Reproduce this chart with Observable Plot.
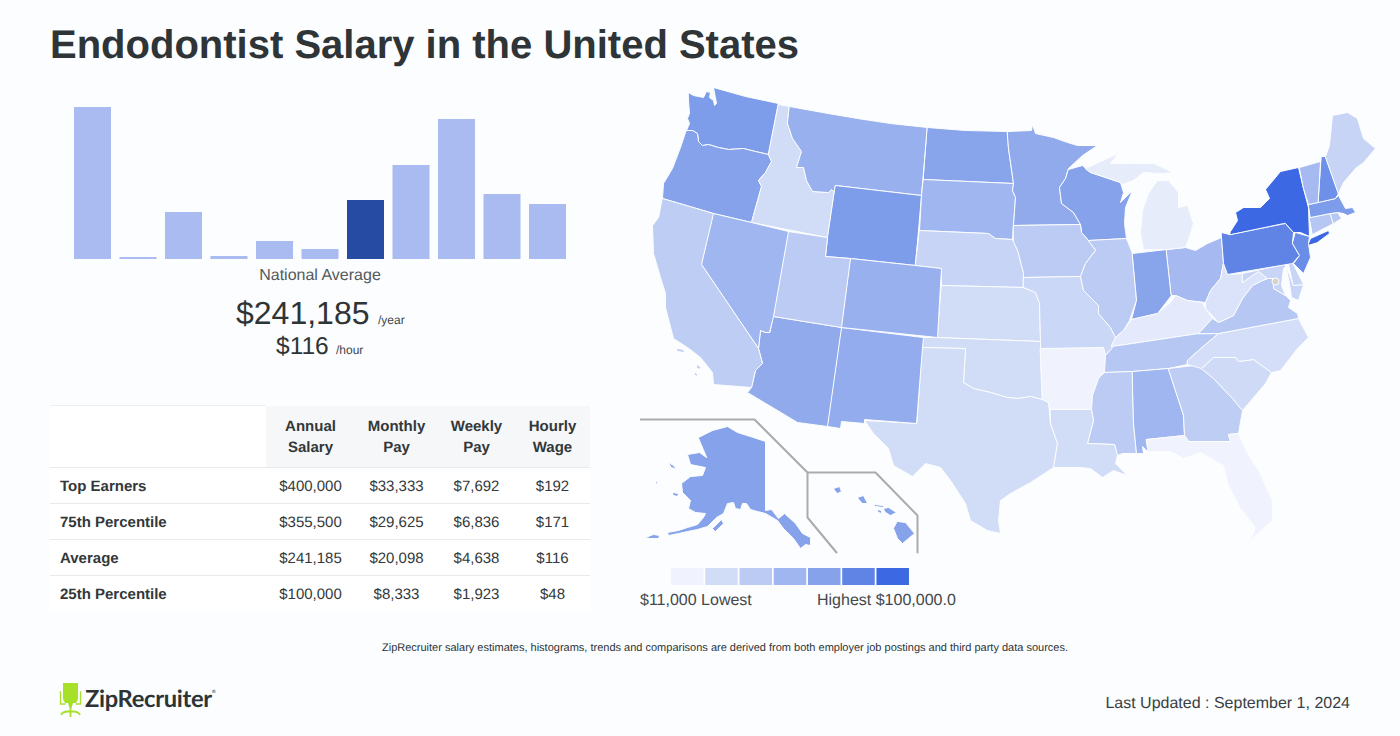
<!DOCTYPE html>
<html>
<head>
<meta charset="utf-8">
<script src="https://cdn.jsdelivr.net/npm/d3@7"></script>
<script src="https://cdn.jsdelivr.net/npm/@observablehq/plot@0.6"></script>
<style>
html,body{margin:0;padding:0;background:#fbfdff;width:1400px;height:736px;overflow:hidden;font-family:"Liberation Sans",Arial,sans-serif;color:#2f3436;text-rendering:geometricPrecision}
.abs{position:absolute;white-space:nowrap}
svg{background:transparent!important;display:block}
#salary{left:50px;top:405px;border-collapse:collapse;font-size:15px;width:540px;table-layout:fixed;color:#33383a}
#salary td,#salary th{text-align:center;padding:1px 0 0 0}
#salary tr.row td{height:34px;background:#fff;border-bottom:1px solid #e9eaec}
#salary tr.row:last-child td{border-bottom:none}
#salary tr.row td:first-child{text-align:left;padding-left:10px;font-weight:bold}
#salary th{height:60px;line-height:21px;font-weight:bold;background:#f6f7f8;border-bottom:1px solid #e9eaec}
#salary th:first-child{background:#fff;border-top:1px solid #eceef0}
</style>
</head>
<body>
<div class="abs" style="left:50px;top:21px;font-size:40px;font-weight:bold;line-height:48px">Endodontist Salary in the United States</div>
<div class="abs" id="bars" style="left:50px;top:95px"></div>
<div class="abs" style="left:50px;width:540px;top:267px;text-align:center;font-size:16px;color:#55595c">National Average</div>
<div class="abs" style="left:236px;top:294px;font-size:32px;line-height:38px">$241,185</div>
<div class="abs" style="left:378px;top:313px;font-size:12px;color:#44484a">/year</div>
<div class="abs" style="left:276px;top:332px;font-size:24.500px;line-height:30px">$116</div>
<div class="abs" style="left:336px;top:343px;font-size:12px;color:#44484a">/hour</div>
<table class="abs" id="salary"></table>
<div class="abs" id="map" style="left:640px;top:80px"></div>
<div class="abs" id="legend" style="left:640px;top:560px"></div>
<div class="abs" style="left:640px;top:592px;font-size:16px;color:#44484a">$11,000 Lowest</div>
<div class="abs" style="left:817px;top:592px;font-size:16px;color:#44484a">Highest $100,000.0</div>
<div class="abs" style="left:0;width:1450px;top:642px;text-align:center;font-size:11px;color:#2d3436">ZipRecruiter salary estimates, histograms, trends and comparisons are derived from both employer job postings and third party data sources.</div>
<div class="abs" style="right:50px;top:695px;font-size:16px;color:#3a3f42">Last Updated : September 1, 2024</div>
<svg class="abs" style="left:56px;top:680px" width="30" height="40" viewBox="0 0 30 40">
<path d="M7 3h15v16l-2 4h-11l-2-4z" fill="#a6e02a"/><path d="M5 12h-0.500v12h5M24 12h0.500v12h-5" fill="none" stroke="#a6e02a" stroke-width="1.300"/><path d="M12 23h5l-1.500 5h-2z" fill="#a6e02a"/><path d="M14.500 27v10M5 35c2-5 17-5 19 0" fill="none" stroke="#a6e02a" stroke-width="1.800"/>
</svg>
<div class="abs" style="left:85px;top:685px;font-family:Lato,sans-serif;font-weight:bold;font-size:23.700px;letter-spacing:-.3px;color:#2d3436">ZipRecruiter<span style="font-size:5px;vertical-align:14px;font-weight:normal">®</span></div>
<script>
const binIndex = [1,2,3,4,5,6,7,8,9,10,11];
const binCounts = [152,2,47,3,18,10,59,94,140,65,55];
const nationalAverageBin = 7;

const tableHeaders = ["", "Annual<br>Salary", "Monthly<br>Pay", "Weekly<br>Pay", "Hourly<br>Wage"];
const rowLabels = ["Top Earners","75th Percentile","Average","25th Percentile"];
const annualSalary = ["$400,000","$355,500","$241,185","$100,000"];
const monthlyPay = ["$33,333","$29,625","$20,098","$8,333"];
const weeklyPay = ["$7,692","$6,836","$4,638","$1,923"];
const hourlyWage = ["$192","$171","$116","$48"];

const legendLevels = [0,1,2,3,4,5,6];
const legendColors = ["#f0f3fd","#d1dcf7","#bccbf4","#a0b6f0","#85a2ea","#5f84e6","#3d68e3"];

const stateNames = ["WA","OR","ID","MT","WY","ND","SD","MN","WI","IA","NE","KS","OK","TX","NM","AZ","CO","UT","NV","CA","AR","MO","IL","IN","OH","MI","KY","TN","MS","AL","LA","GA","FL","SC","NC","VA","WV","MD","DE","PA","NY","NJ","CT","RI","MA","VT","NH","ME","AK","HI"];
const stateLevels = [4.2,4,1,3.3,4.2,3.9,3,3.6,4,2,1.5,1,1,1,3.5,3.6,3.3,2,3,1.9,0,1.3,2,3.9,2.8,0.3,0.4,2.2,2,3,1,1.9,0,1.1,0.9,2.2,0.7,1.4,1.4,5,6,4.7,2.2,2.2,4.2,2.8,4.6,1.5,4,4];
// Outlines, in map units; each state is a list of rings x,y,x,y...
const stateOutlines = {
WA:[[688,92,693,95,703,97,706,91,710,92,709,97,713,100,714,105,716,103,713,87,745,96,778,103,768,154,755,151,743,148,728,149,718,147,708,144,702,145,698,141,697,133,692,130,686,130,689,123,687,118,689,113,688,100]],
OR:[[686,130,692,130,697,133,698,141,702,145,708,144,718,147,728,149,743,148,755,151,768,154,771,161,765,172,758,180,761,186,751,222,713,213,662,198,663,183,672,168,680,147]],
ID:[[778,104,789,106,787,123,792,138,801,151,796,167,803,167,806,180,812,191,828,192,831,189,834,192,835,185,827,237,751,222,761,186,758,180,765,172,771,161,768,154]],
MT:[[789,106,822,112,857,118,890,123,927,127,921,195,835,185,834,192,831,189,828,192,812,191,806,180,803,167,796,167,801,151,792,138,787,123]],
WY:[[835,185,921,195,915,265,850,258,825,256,827,237]],
ND:[[927,127,965,130,1007,131,1008,148,1013,183,923,179]],
SD:[[923,179,1013,183,1012,190,1015,197,1013,225,1012,239,995,238,988,233,919,230,921,195]],
MN:[[1007,131,1031,130,1032,124,1035,133,1053,137,1067,142,1077,145,1097,145,1082,155,1068,168,1065,178,1059,187,1061,203,1073,212,1080,224,1013,225,1015,197,1012,190,1013,183,1008,148]],
WI:[[1068,169,1082,165,1090,172,1120,182,1123,192,1120,202,1132,190,1125,207,1124,223,1126,238,1088,240,1081,232,1080,224,1073,212,1061,203,1059,187,1065,178]],
IA:[[1013,225,1080,224,1081,232,1088,240,1095,250,1085,263,1080,276,1023,277,1023,273,1017,250,1013,243]],
NE:[[919,230,988,233,995,238,1012,239,1017,250,1023,273,1023,287,941,285,941,268,915,265]],
KS:[[941,285,1023,287,1035,292,1039,303,1040,341,937,337]],
OK:[[923,337,937,337,1040,341,1040,348,1042,399,1030,396,1018,398,1007,397,990,392,973,388,963,382,965,348,922,347]],
TX:[[922,347,965,348,963,382,973,388,990,392,1007,397,1018,398,1030,396,1042,399,1048,402,1050,423,1057,443,1053,467,1030,482,1010,493,1000,500,998,520,1000,533,987,530,970,520,965,503,950,480,940,467,925,463,912,476,893,465,888,448,873,433,864,420,916,423]],
NM:[[841,327,923,337,922,347,916,423,864,419,864,423,841,421,840,428,827,426]],
AZ:[[773,316,841,327,827,426,797,422,747,392,751,387,755,370,762,363,758,348,760,330,765,332,769,332]],
CO:[[850,258,915,265,941,268,937,337,841,327]],
UT:[[788,231,827,237,825,256,850,258,841,327,773,316]],
NV:[[713,213,751,222,788,231,773,316,769,332,765,332,760,330,758,348,701,264]],
CA:[[662,198,713,213,701,264,758,348,762,363,755,370,751,387,713,384,712,372,700,357,687,347,673,338,665,307,665,293,660,277,653,253,652,225,658,217],[676,348,683,349,684,352,677,351],[697,364,700,367,699,369,696,367],[695,372,697,374,696,376,694,374]],
AR:[[1040,348,1103,347,1105,355,1105,370,1098,378,1092,395,1091,409,1050,409,1048,402,1042,399]],
MO:[[1023,277,1080,276,1083,290,1098,305,1098,313,1110,327,1115,337,1113,343,1112,347,1105,355,1103,347,1040,348,1040,341,1039,303,1035,292,1023,287]],
IL:[[1088,240,1126,238,1132,253,1136,300,1129,320,1123,330,1115,337,1110,327,1098,313,1098,305,1083,290,1080,276,1085,263,1095,250]],
IN:[[1132,253,1166,249,1171,295,1157,313,1131,319,1136,300]],
OH:[[1166,249,1185,247,1195,250,1207,243,1221,237,1223,263,1220,278,1210,290,1205,302,1187,300,1175,295,1171,295]],
MI:[[1143,249,1140,233,1142,210,1148,193,1157,180,1168,180,1178,192,1178,207,1187,205,1193,223,1190,233,1185,247,1166,249],[1085,168,1098,162,1118,153,1110,163,1130,163,1153,163,1173,172,1160,173,1143,172,1133,180,1122,184,1120,182,1090,172]],
KY:[[1115,337,1123,330,1131,319,1157,313,1170,302,1175,295,1187,300,1202,302,1205,308,1212,318,1198,333,1132,343,1111,346]],
TN:[[1111,346,1132,343,1198,333,1218,333,1198,350,1187,360,1187,364,1168,368,1132,371,1104,372,1105,355,1112,347]],
MS:[[1104,372,1132,371,1133,423,1136,453,1122,453,1117,455,1114,444,1087,443,1093,420,1091,409,1092,395,1098,378]],
AL:[[1132,371,1168,368,1183,415,1184,435,1146,439,1148,452,1142,446,1143,453,1136,453,1133,423]],
LA:[[1050,409,1091,409,1093,420,1087,443,1114,444,1117,455,1115,463,1127,475,1113,470,1102,477,1090,468,1080,467,1053,467,1057,443,1050,423]],
GA:[[1168,368,1202,364,1201,368,1213,378,1232,398,1242,410,1238,433,1228,434,1230,441,1188,441,1184,435,1183,415]],
FL:[[1146,439,1184,435,1188,441,1230,441,1228,434,1238,433,1247,453,1258,470,1272,500,1272,520,1263,528,1250,540,1255,527,1240,508,1227,483,1223,465,1200,452,1183,458,1170,451,1150,451,1148,452]],
SC:[[1201,368,1213,357,1235,357,1238,361,1253,359,1271,372,1265,383,1242,410,1232,398,1213,378]],
NC:[[1187,360,1198,350,1218,333,1298,318,1308,337,1297,348,1280,370,1271,372,1253,359,1238,361,1235,357,1213,357,1201,368,1187,364]],
VA:[[1198,333,1212,318,1218,322,1233,315,1242,298,1252,285,1262,280,1267,278,1273,278,1273,288,1285,295,1290,300,1288,307,1297,313,1298,318,1218,333]],
WV:[[1223,263,1227,274,1242,273,1242,282,1258,271,1267,278,1262,280,1252,285,1242,298,1233,315,1218,322,1205,308,1205,302,1210,290,1220,278]],
MD:[[1242,273,1288,263,1283,268,1281,285,1285,295,1273,288,1273,278,1267,278,1258,271,1242,282],[1285,264,1293,285,1303,284,1298,300,1291,297,1289,283]],
DE:[[1288,263,1292,262,1303,284,1293,285]],
PA:[[1221,232,1229,234,1285,223,1293,232,1292,243,1299,255,1292,263,1227,274,1223,263,1221,237]],
NY:[[1229,234,1230,231,1237,220,1235,212,1243,207,1260,207,1269,198,1265,189,1280,171,1298,167,1303,188,1308,207,1309,236,1300,232,1293,232,1285,223],[1307,245,1310,238,1328,230,1329,233,1317,242]],
NJ:[[1295,232,1309,236,1308,243,1310,257,1303,273,1293,263,1299,255,1292,243]],
CT:[[1309,217,1330,213,1333,223,1312,234]],
RI:[[1330,213,1337,212,1341,218,1333,223]],
MA:[[1308,204,1335,198,1338,195,1345,208,1352,207,1355,212,1347,215,1343,213,1337,212,1330,213,1310,217]],
VT:[[1299,167,1320,161,1318,202,1308,204,1303,188]],
NH:[[1321,156,1325,156,1338,193,1335,198,1318,202]],
ME:[[1325,156,1329,145,1332,115,1347,112,1357,118,1363,138,1375,148,1363,162,1355,168,1343,182,1338,193]],
AK:[[698,437,712,430,727,426,737,432,753,437,765,441,765,510,771,509,778,518,784,513,795,523,802,533,810,537,810,545,805,544,800,548,793,538,783,528,777,520,765,513,757,511,750,509,746,503,742,503,740,509,735,508,733,502,727,503,723,513,716,517,707,526,697,529,687,531,678,533,668,535,667,532,678,530,687,527,697,524,703,517,705,513,695,512,688,508,690,500,682,492,681,483,690,476,702,475,705,467,690,464,687,454,699,452,706,457],[668,462,673,465,676,469,671,467],[672,492,678,493,677,496,673,495],[712,528,721,519,723,523,715,531],[645,537,653,534,659,535,658,538,650,538],[655,480,657,482,656,484]],
HI:[[833,488,839,486,841,491,837,493],[857,497,863,495,867,503,862,503],[873,504,883,505,883,507,875,506],[877,509,881,510,881,513,878,512],[883,508,888,507,896,512,890,515,885,512],[897,521,905,522,914,533,902,543,897,538,893,528]]
};
const insetFrames = [
 [[640,419],[754,419],[807,472],[807,517],[836,552]],
 [[807,472],[875,472],[917,515],[917,552]]
];
const capital = [{x:1275,y:281}];

const toRing = flat => { const r=[]; for(let i=0;i<flat.length;i+=2) r.push([flat[i],flat[i+1]]); r.push(r[0]); return r; };
const states = stateNames.map((name,i)=>({type:"Feature",properties:{name,level:stateLevels[i]},
  geometry:{type:"MultiPolygon",coordinates:stateOutlines[name].map(f=>[toRing(f)])}}));
const colorScale = {type:"linear",domain:legendLevels,range:legendColors};

document.getElementById("bars").append(Plot.plot({
  width:540,height:170,marginLeft:15.5,marginRight:15.5,marginTop:12,marginBottom:6,
  x:{type:"band",domain:binIndex,padding:0.187,round:false,axis:null},
  y:{domain:[0,152],axis:null},
  marks:[Plot.barY(binIndex.map((b,i)=>({b,v:binCounts[i]})),{x:"b",y:"v",
    fill:d=>d.b===nationalAverageBin?"#264ba3":"#a9bbf0"})]
}));

document.getElementById("map").append(Plot.plot({
  width:750,height:480,margin:0,
  projection:d3.geoIdentity().translate([-640,-80]),
  color:colorScale,
  marks:[
    Plot.geo({type:"MultiLineString",coordinates:insetFrames},{stroke:"#a9abae",strokeWidth:2,fill:"none"}),
    Plot.geo(states,{fill:d=>d.properties.level,stroke:"#fbfdff",strokeWidth:1,strokeLinejoin:"round"}),
    Plot.dot(capital,{x:"x",y:"y",r:3.5,fill:"#d5d2c8",stroke:"#fff",strokeWidth:1})
  ]
}));

document.getElementById("legend").append(Plot.plot({
  width:280,height:30,marginLeft:29.3,marginRight:9.3,marginTop:8,marginBottom:5,
  x:{type:"band",domain:legendLevels,padding:0.05,round:false,axis:null},
  y:{domain:[0,1],axis:null},
  color:colorScale,
  marks:[Plot.barY(legendLevels,{x:d=>d,y:()=>1,fill:d=>d})]
}));

const tbl=document.getElementById("salary");
const widths=[216,89,83,77,75];
tbl.innerHTML="<colgroup>"+widths.map(w=>`<col style="width:${w}px">`).join("")+"</colgroup><tr>"+tableHeaders.map(h=>`<th>${h}</th>`).join("")+"</tr>"+
  rowLabels.map((l,i)=>`<tr class="row"><td>${l}</td><td>${annualSalary[i]}</td><td>${monthlyPay[i]}</td><td>${weeklyPay[i]}</td><td>${hourlyWage[i]}</td></tr>`).join("");
</script>
</body>
</html>
